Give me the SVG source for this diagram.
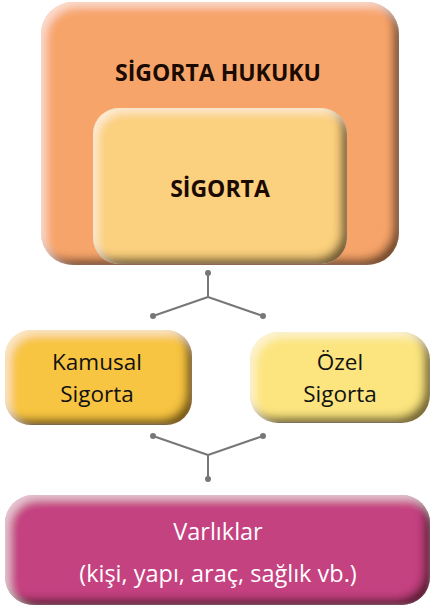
<svg xmlns="http://www.w3.org/2000/svg" width="433" height="610" viewBox="0 0 433 610">
<defs>
<filter id="bevel" x="-5%" y="-5%" width="110%" height="110%">
<feGaussianBlur in="SourceAlpha" stdDeviation="4" result="blur"/>
<feOffset in="blur" dx="-6" dy="-6" result="offD"/>
<feComposite in="SourceAlpha" in2="offD" operator="out" result="edgeD"/>
<feFlood flood-color="#2a1400" flood-opacity="0.85"/>
<feComposite in2="edgeD" operator="in" result="dark"/>
<feOffset in="blur" dx="5" dy="5" result="offL"/>
<feComposite in="SourceAlpha" in2="offL" operator="out" result="edgeL"/>
<feFlood flood-color="#ffffff" flood-opacity="0.55"/>
<feComposite in2="edgeL" operator="in" result="light"/>
<feMerge><feMergeNode in="SourceGraphic"/><feMergeNode in="dark"/><feMergeNode in="light"/></feMerge>
</filter>
</defs>
<style>
.box{filter:url(#bevel);}
.t{font-family:"Open Sans","Liberation Sans",sans-serif;text-anchor:middle;}
.b{font-weight:bold;fill:#1a0a00;font-size:23px;}
.r{fill:#111;font-size:22.5px;}
.w{fill:#fff;font-size:23.5px;}
.con line{stroke:#777;stroke-width:2;}
.con circle{fill:#777;}
</style>
<g id="sigorta-hukuku">
<rect class="box" x="41" y="2" width="358" height="263" rx="32" fill="#F7A46A"/>
<text class="t b" x="218" y="81">SİGORTA HUKUKU</text>
</g>
<g id="sigorta">
<rect class="box" x="93" y="108" width="254" height="156" rx="26" fill="#FBD07E"/>
<text class="t b" x="220" y="197">SİGORTA</text>
</g>
<g id="connectors" class="con">
<line x1="208" y1="273" x2="208" y2="297"/>
<line x1="208" y1="297" x2="153" y2="316"/>
<line x1="208" y1="297" x2="263" y2="316"/>
<circle cx="208" cy="273" r="3"/>
<circle cx="153" cy="316" r="3"/>
<circle cx="263" cy="316" r="3"/>
<line x1="153" y1="436" x2="208" y2="455"/>
<line x1="263" y1="436" x2="208" y2="455"/>
<line x1="208" y1="455" x2="208" y2="479"/>
<circle cx="153" cy="436" r="3"/>
<circle cx="263" cy="436" r="3"/>
<circle cx="208" cy="479" r="3"/>
</g>
<g id="kamusal">
<rect class="box" x="5" y="330" width="187" height="95" rx="26" fill="#F8C543"/>
<text class="t r" x="97" y="370">Kamusal</text>
<text class="t r" x="97" y="402">Sigorta</text>
</g>
<g id="ozel">
<rect class="box" x="250" y="332" width="180" height="91" rx="28" fill="#FCE57F"/>
<text class="t r" x="340" y="370">Özel</text>
<text class="t r" x="340" y="402">Sigorta</text>
</g>
<g id="varliklar">
<rect class="box" x="5" y="495" width="425" height="110" rx="28" fill="#C54381"/>
<text class="t w" x="218" y="540">Varlıklar</text>
<text class="t w" x="218" y="582">(kişi, yapı, araç, sağlık vb.)</text>
</g>
</svg>
